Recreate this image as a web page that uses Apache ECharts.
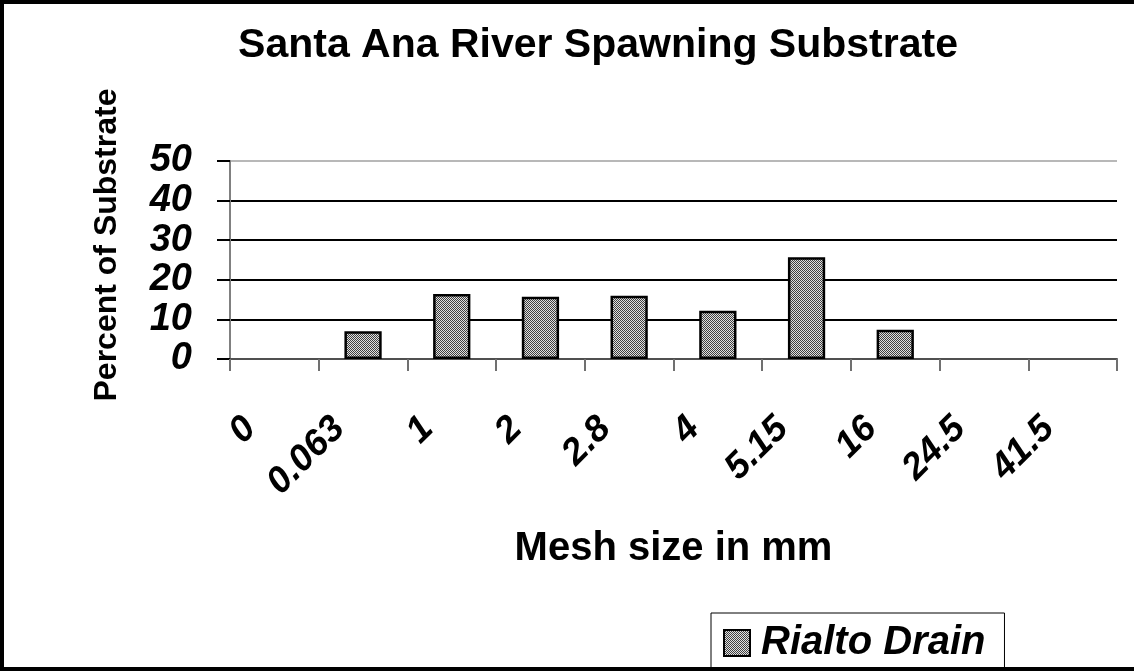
<!DOCTYPE html>
<html>
<head>
<meta charset="utf-8">
<script src="https://cdn.jsdelivr.net/npm/echarts@6/dist/echarts.min.js"></script>
<style>
html,body{margin:0;padding:0;background:#fff;}
#chart{width:1134px;height:671px;}
</style>
</head>
<body>
<div id="chart"></div>
<script>
const categories = ['0', '0.063', '1', '2', '2.8', '4', '5.15', '16', '24.5', '41.5'];
const rialtoDrain = [0, 7.0, 16.4, 15.7, 16.0, 12.2, 25.7, 7.4, 0, 0];
const seriesName = 'Rialto Drain';
const yMin = 0, yMax = 50, yStep = 10;

const FONT = "'Liberation Sans', Arial, sans-serif";

// dotted pattern fill
const pc = document.createElement('canvas');
pc.width = 2; pc.height = 2;
const pctx = pc.getContext('2d');
pctx.fillStyle = '#e0e0e0'; pctx.fillRect(0, 0, 2, 2);
pctx.fillStyle = '#404040'; pctx.fillRect(0, 0, 1, 1); pctx.fillRect(1, 1, 1, 1);
const pattern = { image: pc, repeat: 'repeat' };

const chart = echarts.init(document.getElementById('chart'), null, { renderer: 'canvas' });
chart.setOption({
  backgroundColor: '#fff',
  animation: false,
  title: {
    text: 'Santa Ana River Spawning Substrate',
    left: 598, textAlign: 'center', top: 25, padding: 0,
    textStyle: { fontFamily: FONT, fontWeight: 'bold', fontSize: 41, color: '#000' }
  },
  legend: {
    data: [seriesName],
    left: 711, top: 613,
    orient: 'horizontal',
    borderColor: '#000', borderWidth: 1,
    padding: [10, 19, 17, 12],
    itemWidth: 26, itemHeight: 26,
    icon: 'rect',
    itemStyle: { color: pattern, borderColor: '#000', borderWidth: 2 },
    textStyle: { fontFamily: FONT, fontWeight: 'bold', fontStyle: 'italic', fontSize: 40, color: '#000', padding: [0, 0, 0, 6] }
  },
  grid: { left: 230, top: 161, width: 887, height: 198, containLabel: false },
  xAxis: {
    type: 'category',
    data: categories,
    boundaryGap: true,
    name: 'Mesh size in mm',
    nameLocation: 'middle',
    nameGap: 170,
    nameTextStyle: { fontFamily: FONT, fontWeight: 'bold', fontSize: 40, color: '#000' },
    axisLine: { show: true, lineStyle: { color: '#505050', width: 2 } },
    axisTick: { show: true, alignWithLabel: false, length: 12, lineStyle: { color: '#707070', width: 2 } },
    axisLabel: {
      interval: 0, rotate: 45, margin: 40, padding: [0, 34, 58, 0],
      hideOverlap: false,
      fontFamily: FONT, fontWeight: 'bold', fontStyle: 'italic', fontSize: 37, color: '#000'
    },
    splitLine: { show: false }
  },
  yAxis: {
    type: 'value',
    min: yMin, max: yMax, interval: yStep,
    name: 'Percent of Substrate',
    nameLocation: 'middle',
    nameRotate: 90,
    nameGap: 107,
    nameTextStyle: { fontFamily: FONT, fontWeight: 'bold', fontSize: 32, color: '#000', padding: [0, 0, 0, 30] },
    axisLine: { show: true, lineStyle: { color: '#808080', width: 2 } },
    axisTick: { show: true, length: 13, lineStyle: { color: '#000', width: 2 } },
    axisLabel: { margin: 38, fontFamily: FONT, fontWeight: 'bold', fontStyle: 'italic', fontSize: 38, color: '#000' },
    splitLine: { show: true, lineStyle: { color: ['#000', '#000', '#000', '#000', '#000', '#b8b8b8'], width: 2 } }
  },
  series: [{
    name: seriesName,
    type: 'bar',
    barWidth: '42%',
    data: rialtoDrain.map(v => (v === 0 ? '-' : v)),
    itemStyle: { color: pattern, borderColor: '#000', borderWidth: 2.5 }
  }],
  graphic: [{
    type: 'rect', z: 100, silent: true,
    shape: { x: 2, y: 2, width: 1200, height: 667 },
    style: { fill: 'none', stroke: '#000', lineWidth: 4 }
  }]
});
</script>
</body>
</html>
